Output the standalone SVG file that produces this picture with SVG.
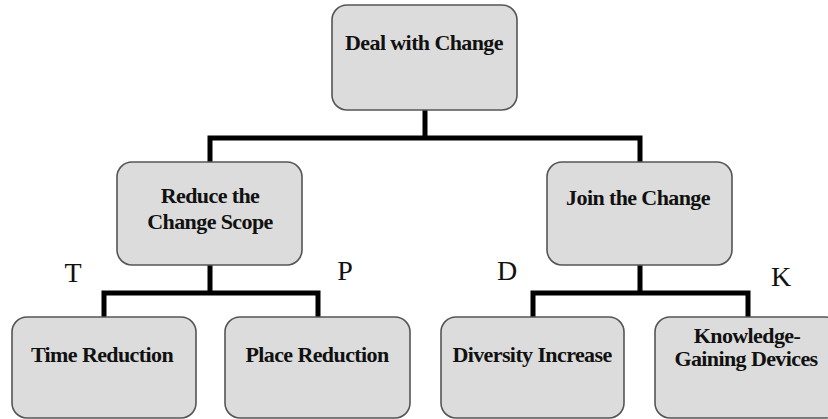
<svg xmlns="http://www.w3.org/2000/svg" width="828" height="419" viewBox="0 0 828 419">
<style>
.box{fill:#dcdcdc;stroke:#555;stroke-width:1.6}
.lbl{font-family:"Liberation Serif","Times New Roman",serif;font-weight:bold;font-size:22px;fill:#111;text-anchor:middle;letter-spacing:-0.6px}
.ltr{font-family:"Liberation Serif","Times New Roman",serif;font-size:28px;fill:#111;text-anchor:middle}
.con{fill:none;stroke:#000;stroke-width:5;stroke-linejoin:miter;stroke-linecap:square}
</style>
<rect width="828" height="419" fill="#fff"/>
<g id="connectors">
<path class="con" d="M425,110 V138 M210,162 V138 H640 V162"/>
<path class="con" d="M210,265 V293 M104,317 V293 H318 V317"/>
<path class="con" d="M640,265 V293 M533,317 V293 H748 V317"/>
</g>
<g id="deal">
<rect class="box" x="332" y="5" width="185" height="105" rx="15"/>
<text class="lbl" x="424" y="50">Deal with Change</text>
</g>
<g id="reduce">
<rect class="box" x="117" y="162" width="185" height="103" rx="15"/>
<text class="lbl" x="210" y="203">Reduce the</text>
<text class="lbl" x="210" y="229">Change Scope</text>
</g>
<g id="join">
<rect class="box" x="547" y="162" width="185" height="103" rx="15"/>
<text class="lbl" x="638" y="205">Join the Change</text>
</g>
<g id="time">
<rect class="box" x="12" y="317" width="184" height="101" rx="15"/>
<text class="lbl" x="102" y="362">Time Reduction</text>
</g>
<g id="place">
<rect class="box" x="225" y="317" width="185" height="101" rx="15"/>
<text class="lbl" x="317" y="362">Place Reduction</text>
</g>
<g id="diversity">
<rect class="box" x="441" y="317" width="183" height="101" rx="15"/>
<text class="lbl" x="532" y="362">Diversity Increase</text>
</g>
<g id="knowledge">
<rect class="box" x="655" y="317" width="185" height="101" rx="15"/>
<text class="lbl" x="747" y="343">Knowledge-</text>
<text class="lbl" x="746" y="366">Gaining Devices</text>
</g>
<g id="letters">
<text class="ltr" x="73" y="282">T</text>
<text class="ltr" x="345" y="280">P</text>
<text class="ltr" x="507" y="280">D</text>
<text class="ltr" x="781" y="286">K</text>
</g>
</svg>
